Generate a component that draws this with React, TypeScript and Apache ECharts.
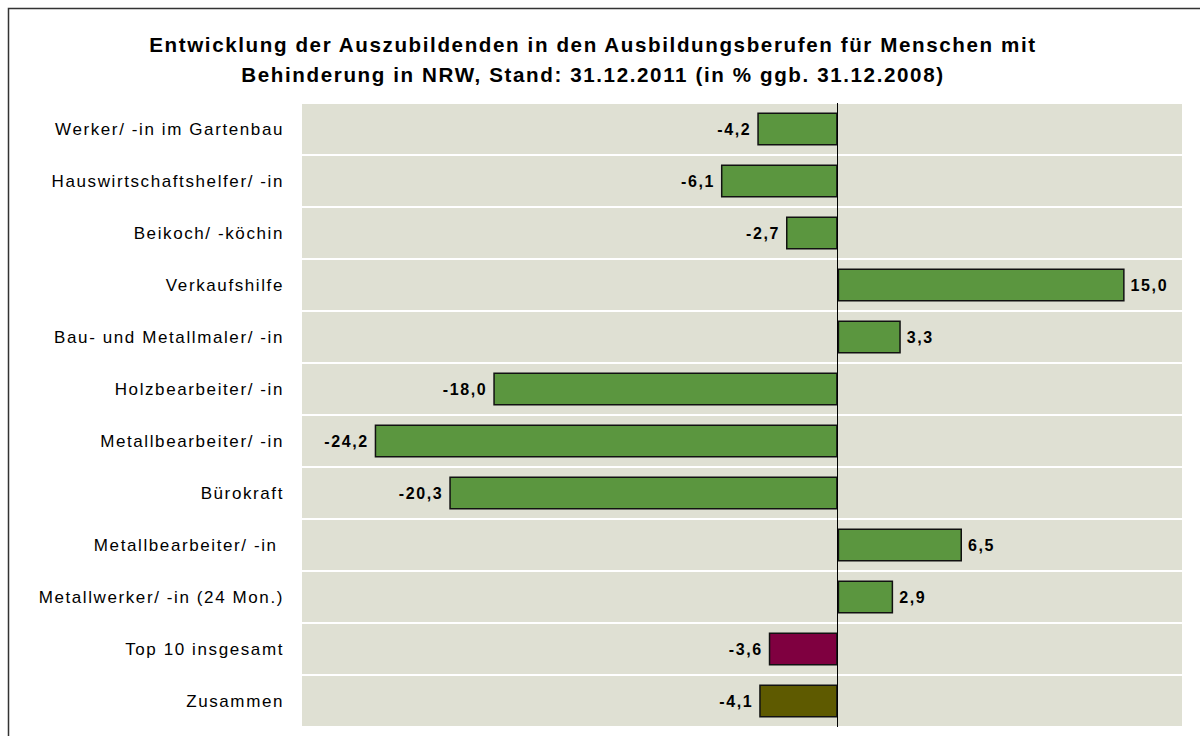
import React, { useEffect, useRef } from "react";
import * as echarts from "echarts";

const categories = [
  "Werker/ -in im Gartenbau",
  "Hauswirtschaftshelfer/ -in",
  "Beikoch/ -köchin",
  "Verkaufshilfe",
  "Bau- und Metallmaler/ -in",
  "Holzbearbeiter/ -in",
  "Metallbearbeiter/ -in",
  "Bürokraft",
  "Metallbearbeiter/ -in ",
  "Metallwerker/ -in (24 Mon.)",
  "Top 10 insgesamt",
  "Zusammen",
];
const values = [-4.2, -6.1, -2.7, 15.0, 3.3, -18.0, -24.2, -20.3, 6.5, 2.9, -3.6, -4.1];
const barColors = [
  "#5B963F", "#5B963F", "#5B963F", "#5B963F", "#5B963F", "#5B963F",
  "#5B963F", "#5B963F", "#5B963F", "#5B963F", "#7F0040", "#5E5A00",
];
const titleLines = [
  "Entwicklung der Auszubildenden in den Ausbildungsberufen für Menschen mit",
  "Behinderung in NRW, Stand: 31.12.2011 (in % ggb. 31.12.2008)",
];

export default function App() {
  const ref = useRef<HTMLDivElement>(null);
  useEffect(() => {
    if (!ref.current) return;
    const chart = echarts.init(ref.current, undefined, { renderer: "svg" });
    const font = "'Liberation Sans', Arial, sans-serif";
    chart.setOption({
      animation: false,
      backgroundColor: "#ffffff",
      textStyle: { fontFamily: font },
      title: {
        text: titleLines.join("\n"),
        left: 588,
        textAlign: "center",
        top: 24,
        textStyle: {
          fontFamily: font,
          fontSize: 20.6,
          fontWeight: "bold",
          color: "#000",
          lineHeight: 30,
        },
      },
      graphic: [
        {
          type: "rect",
          shape: { x: 8.5, y: 8.5, width: 1300, height: 800 },
          style: { fill: "none", stroke: "#333", lineWidth: 1.5 },
          silent: true,
          z: 100,
        },
      ],
      grid: {
        left: 302,
        right: 18,
        top: 103,
        bottom: 9,
        show: true,
        backgroundColor: "#DFE0D3",
        borderWidth: 0,
      },
      xAxis: {
        type: "value",
        min: -28,
        max: 18,
        show: false,
        splitLine: { show: false },
      },
      yAxis: {
        type: "category",
        data: categories,
        inverse: true,
        axisLine: { show: false },
        axisTick: { show: false },
        axisLabel: {
          margin: 18,
          fontSize: 17,
          color: "#000",
          fontFamily: font,
        },
        splitLine: { show: true, lineStyle: { color: "#ffffff", width: 2 } },
      },
      series: [
        {
          type: "bar",
          barWidth: "63%",
          data: values.map((v, i) => ({
            value: v,
            itemStyle: { color: barColors[i], borderColor: "#111", borderWidth: 1.5 },
            label: { position: v < 0 ? "left" : "right" },
          })),
          label: {
            show: true,
            distance: 6,
            fontSize: 16,
            fontWeight: "bold",
            color: "#000",
            fontFamily: font,
            formatter: (p: any) => p.value.toFixed(1).replace(".", ","),
          },
          markLine: {
            silent: true,
            symbol: "none",
            label: { show: false },
            lineStyle: { color: "#000", width: 1, type: "solid" },
            data: [{ xAxis: 0 }],
          },
        },
      ],
    });
    return () => chart.dispose();
  }, []);
  return (
    <div
      ref={ref}
      style={{
        position: "fixed",
        left: 0,
        top: 0,
        width: 1200,
        height: 736,
        letterSpacing: "1.6px",
      }}
    />
  );
}
